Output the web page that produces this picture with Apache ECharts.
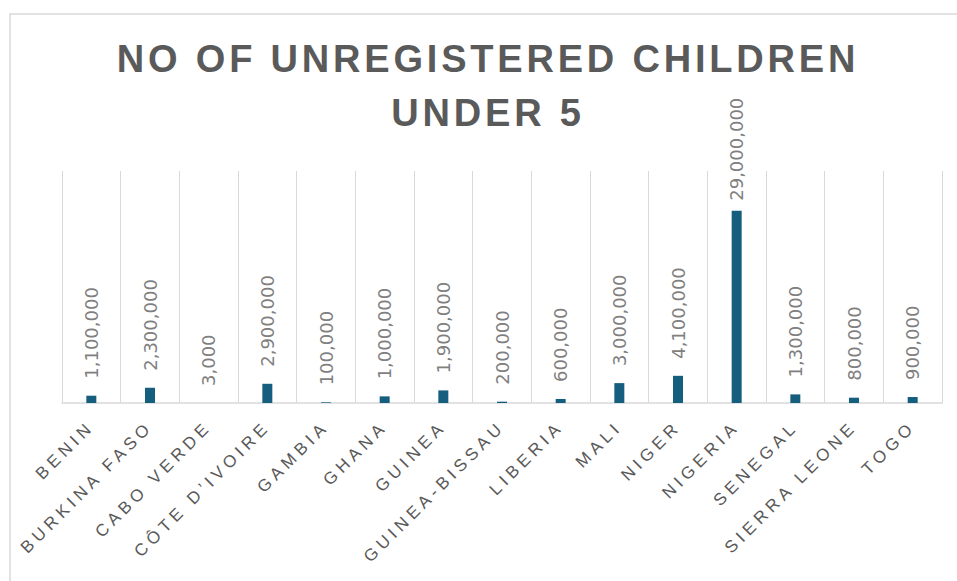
<!DOCTYPE html>
<html>
<head>
<meta charset="utf-8">
<script src="https://cdn.jsdelivr.net/npm/echarts@6/dist/echarts.min.js"></script>
<style>
  html, body { margin: 0; padding: 0; background: #ffffff; }
  #chart { width: 957px; height: 581px; }
  #chart text[fill="#595959"] { letter-spacing: 4.5px; }
  #chart text[fill="#5a5a5a"] { letter-spacing: 3.8px; }
</style>
</head>
<body>
<div id="chart"></div>
<script>
const titleText = 'NO OF UNREGISTERED CHILDREN\nUNDER 5';
const categories = ['BENIN', 'BURKINA FASO', 'CABO VERDE', 'CÔTE D\u2019IVOIRE', 'GAMBIA', 'GHANA', 'GUINEA', 'GUINEA-BISSAU', 'LIBERIA', 'MALI', 'NIGER', 'NIGERIA', 'SENEGAL', 'SIERRA LEONE', 'TOGO'];
const unregistered = [1100000, 2300000, 3000, 2900000, 100000, 1000000, 1900000, 200000, 600000, 3000000, 4100000, 29000000, 1300000, 800000, 900000];
const yMax = 35000000;

const maxVal = Math.max.apply(null, unregistered);
const barData = unregistered.map(function (v) {
  if (v === maxVal) {
    return { value: v, label: { distance: 10 } };
  }
  return v;
});

const chart = echarts.init(document.getElementById('chart'), null, { renderer: 'svg' });
chart.setOption({
  animation: false,
  backgroundColor: '#ffffff',
  graphic: [
    {
      type: 'rect',
      shape: { x: 10, y: 14, width: 1200, height: 1200 },
      style: { fill: 'none', stroke: '#d9d9d9', lineWidth: 1.5 },
      silent: true,
      z: -10
    },
    {
      type: 'text',
      x: 488,
      y: 32,
      style: {
        text: titleText,
        fill: '#5a5a5a',
        font: 'bold 38px "Liberation Sans", Arial, sans-serif',
        lineHeight: 54,
        textAlign: 'center',
        textVerticalAlign: 'top'
      },
      silent: true
    }
  ],
  grid: {
    left: 62,
    right: 15,
    top: 171,
    bottom: 178,
    outerBoundsMode: 'none',
    containLabel: false
  },
  xAxis: {
    type: 'category',
    data: categories,
    boundaryGap: true,
    axisLine: { show: true, lineStyle: { color: '#d9d9d9', width: 1.5 } },
    axisTick: { show: false },
    splitLine: { show: true, interval: 0, lineStyle: { color: '#d9d9d9', width: 1 } },
    axisLabel: {
      interval: 0,
      rotate: 45,
      margin: 21,
      color: '#595959',
      fontSize: 17,
      fontFamily: '"Liberation Sans", Arial, sans-serif'
    }
  },
  yAxis: {
    type: 'value',
    min: 0,
    max: yMax,
    show: false,
    splitLine: { show: false }
  },
  series: [
    {
      type: 'bar',
      data: barData,
      barWidth: 10,
      itemStyle: { color: '#165e7d' },
      label: {
        show: true,
        position: 'top',
        rotate: 90,
        align: 'left',
        verticalAlign: 'middle',
        distance: 17,
        color: '#7f7f7f',
        fontSize: 18,
        fontFamily: '"DejaVu Sans", sans-serif',
        formatter: function (p) { return p.value.toLocaleString('en-US'); }
      }
    }
  ]
});
</script>
</body>
</html>
